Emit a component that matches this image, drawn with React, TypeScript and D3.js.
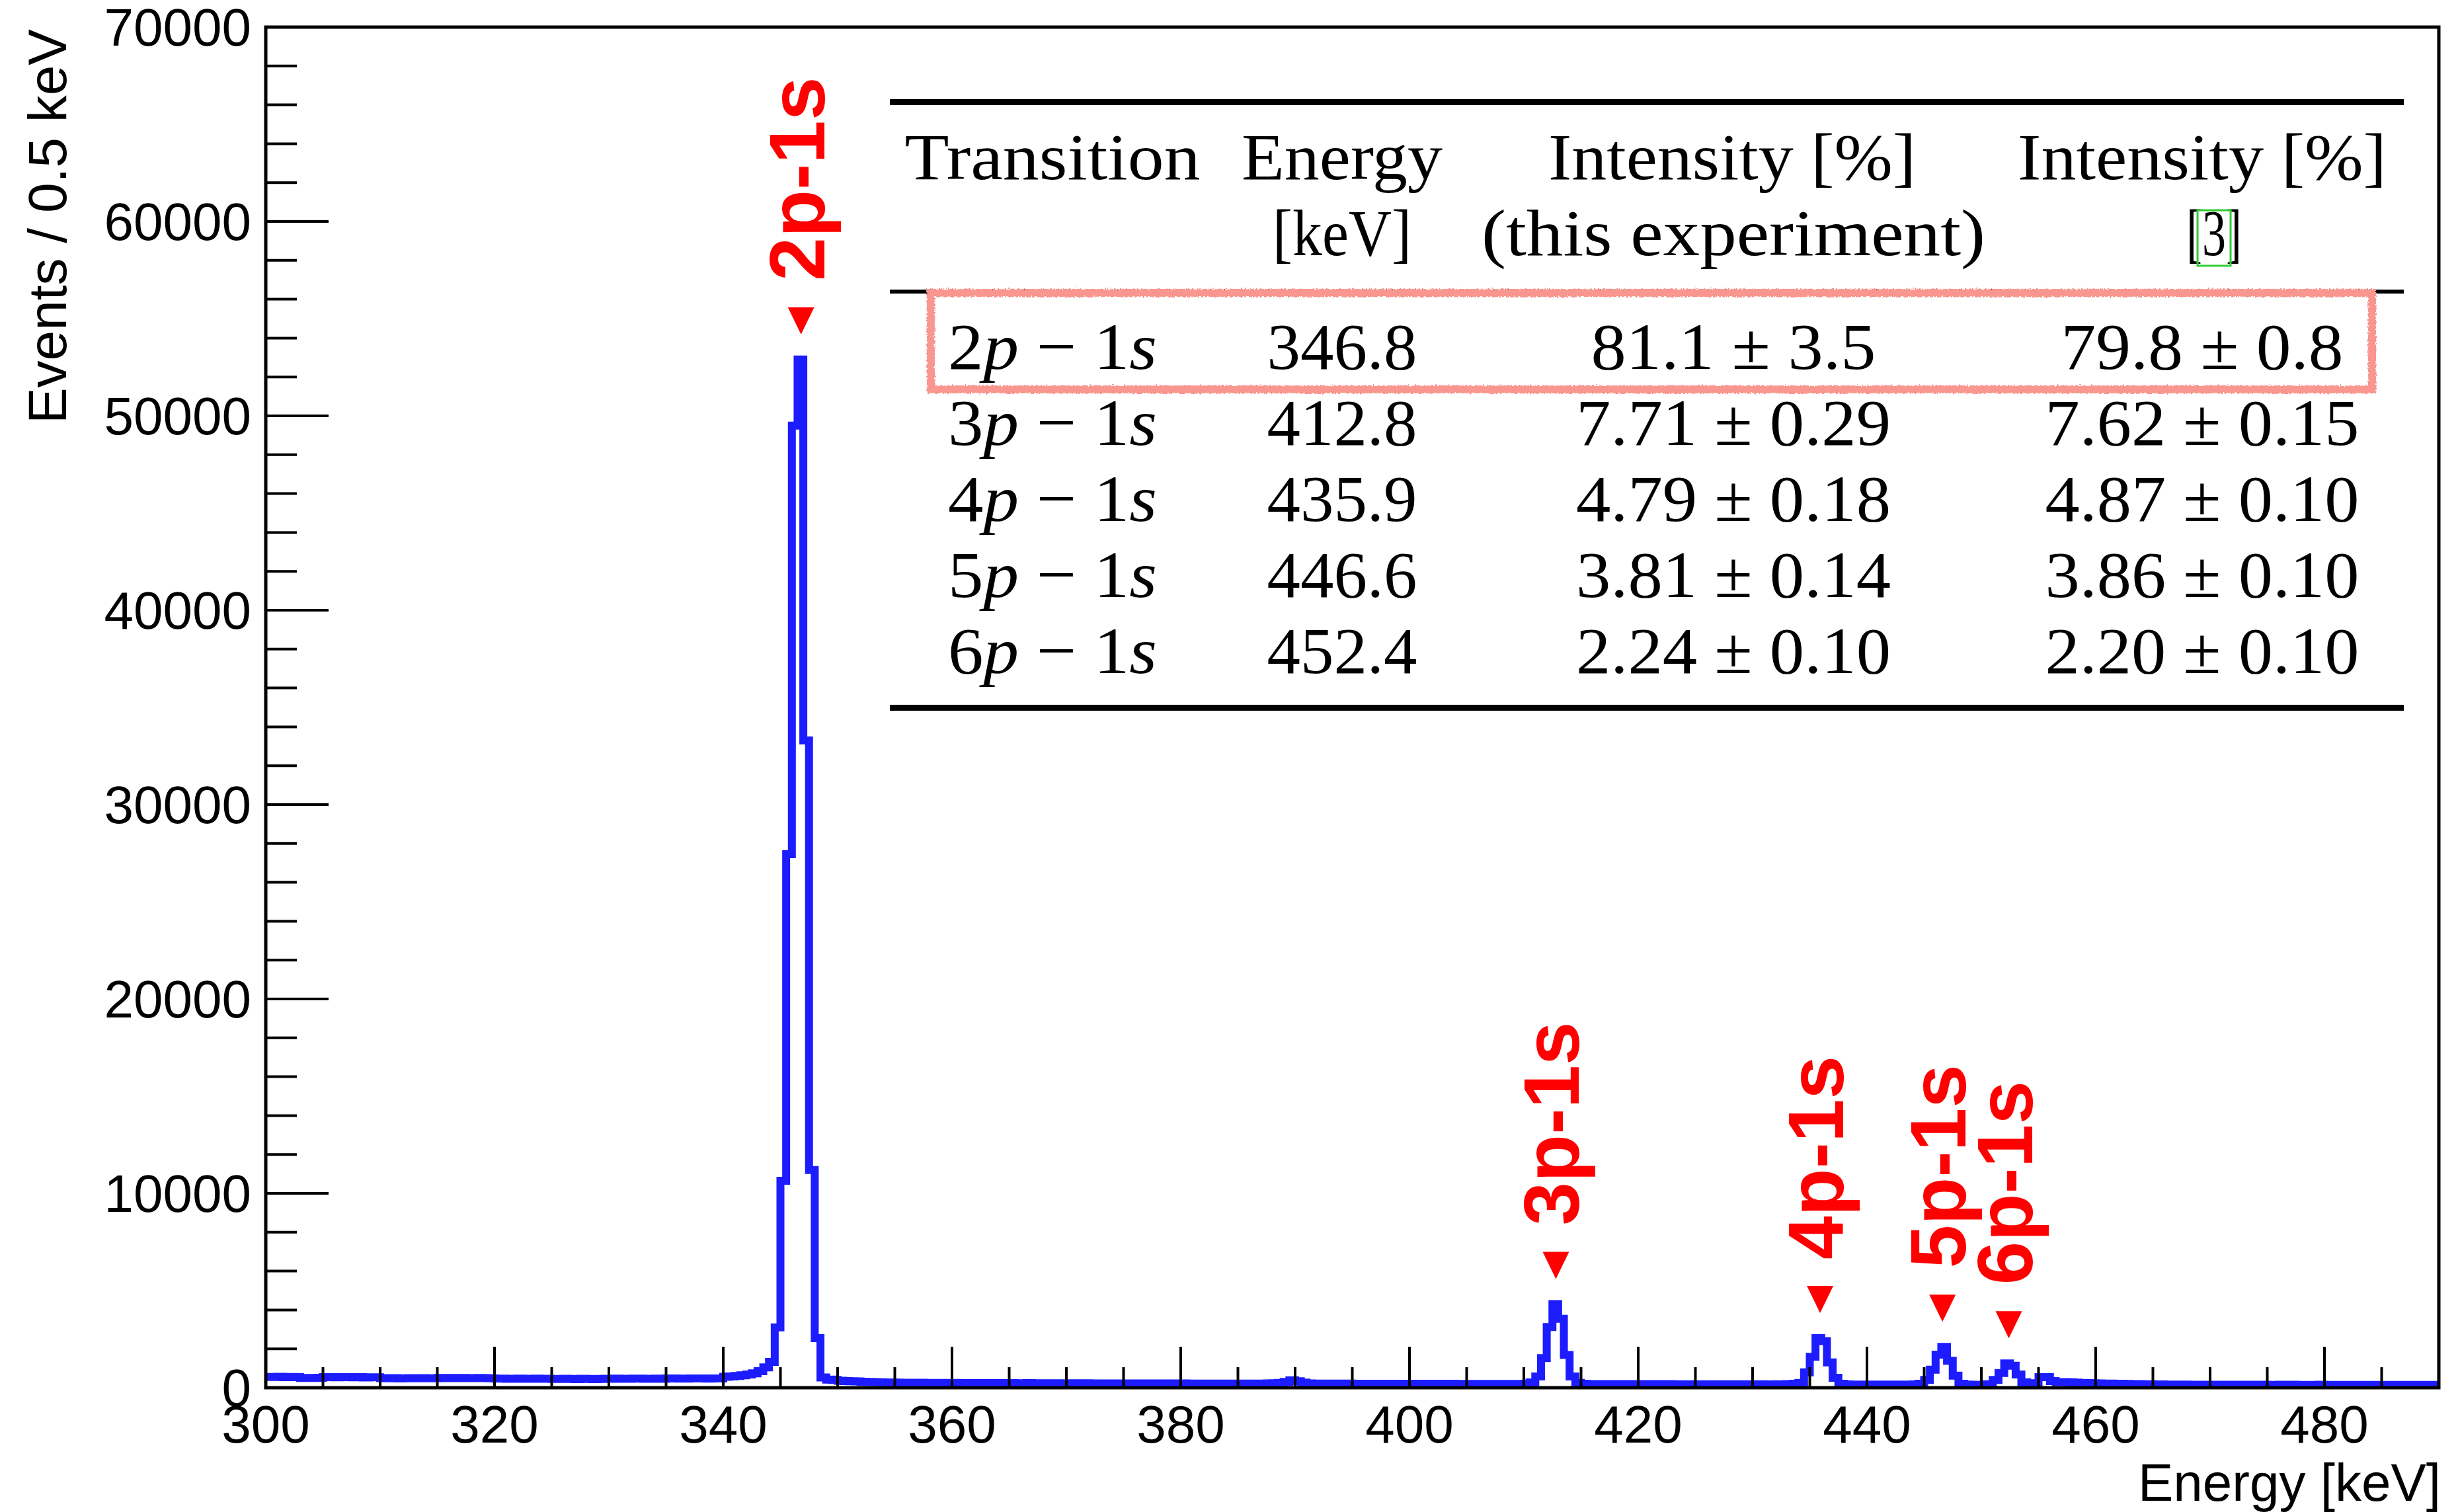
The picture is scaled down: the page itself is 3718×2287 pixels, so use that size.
import React from 'react';
import * as d3 from 'd3';

const W = 3718;
const H = 2287;

// histogram, 0.5 keV bins starting at 300 keV (one row = 10 keV)
const binStart = 300;
const binWidth = 0.5;
const c300 = [555, 550, 558, 548, 552, 545, 505, 498, 500, 510, 540, 545, 538, 548, 542, 536, 544, 530, 538, 532];
const c310 = [490, 485, 492, 480, 488, 495, 482, 490, 486, 484, 498, 495, 500, 492, 505, 490, 496, 502, 494, 488];
const c320 = [465, 470, 460, 458, 468, 462, 455, 466, 460, 463, 452, 448, 455, 450, 445, 458, 452, 446, 450, 455];
const c330 = [462, 468, 460, 455, 465, 470, 458, 462, 466, 460, 472, 478, 470, 468, 475, 480, 472, 470, 476, 480];
const c340 = [560, 580, 600, 640, 680, 740, 850, 1050, 1330, 3100, 10650, 27450, 49500, 52900, 33300, 11200, 2550, 530, 420, 400];
const c350 = [360, 340, 330, 320, 310, 300, 290, 280, 275, 270, 262, 258, 255, 250, 252, 248, 245, 250, 246, 242];
const c360 = [244, 240, 238, 242, 236, 240, 235, 238, 232, 236, 234, 230, 233, 236, 231, 228, 232, 230, 227, 229];
const c370 = [226, 228, 224, 227, 222, 225, 223, 220, 224, 221, 219, 222, 218, 221, 217, 220, 218, 216, 219, 215];
const c380 = [217, 214, 216, 213, 215, 212, 214, 211, 213, 210, 212, 214, 211, 213, 216, 222, 230, 250, 300, 380];
const c390 = [330, 260, 225, 215, 212, 210, 208, 211, 207, 209, 206, 208, 205, 207, 204, 206, 203, 205, 202, 204];
const c400 = [201, 203, 200, 204, 199, 201, 197, 200, 198, 199, 195, 198, 196, 197, 193, 196, 194, 195, 192, 194];
const c410 = [200, 270, 580, 1520, 3120, 4300, 3550, 1680, 580, 250, 200, 190, 188, 190, 186, 189, 185, 187, 184, 186];
const c420 = [183, 185, 182, 184, 181, 183, 180, 182, 179, 181, 178, 180, 177, 179, 176, 178, 175, 177, 174, 176];
const c430 = [173, 175, 172, 174, 176, 180, 186, 200, 250, 790, 1590, 2550, 2400, 1300, 510, 200, 170, 165, 162, 160];
const c440 = [158, 160, 157, 159, 156, 158, 160, 163, 170, 200, 400, 930, 1700, 2100, 1390, 620, 200, 160, 150, 150];
const c450 = [155, 175, 400, 760, 1250, 1130, 680, 280, 200, 230, 540, 540, 340, 290, 290, 280, 260, 250, 240, 230];
const c460 = [220, 215, 210, 205, 200, 195, 190, 185, 180, 176, 172, 168, 165, 162, 160, 158, 156, 155, 153, 152];
const c470 = [151, 149, 152, 148, 150, 147, 151, 149, 146, 150, 148, 145, 149, 147, 150, 146, 148, 144, 147, 149];
const c480 = [145, 148, 146, 143, 147, 145, 148, 144, 146, 143, 145, 147, 144, 142, 146, 143, 145, 141, 144, 142];
const counts = [
  ...c300, ...c310, ...c320, ...c330, ...c340, ...c350, ...c360, ...c370, ...c380, ...c390,
  ...c400, ...c410, ...c420, ...c430, ...c440, ...c450, ...c460, ...c470, ...c480,
];

const xMajor = [300, 320, 340, 360, 380, 400, 420, 440, 460, 480];
const yMajor = [0, 10000, 20000, 30000, 40000, 50000, 60000, 70000];

// peak annotations
const peakNames = ['2p-1s', '3p-1s', '4p-1s', '5p-1s', '6p-1s'];
const peakEnergies = [346.8, 412.8, 435.9, 446.6, 452.4];

// inset table
const headRow1 = ['Transition', 'Energy', 'Intensity [%]', 'Intensity [%]'];
const headRow2 = ['', '[keV]', '(this experiment)', '[3]'];
const rowLevel = ['2', '3', '4', '5', '6'];
const rowEnergy = ['346.8', '412.8', '435.9', '446.6', '452.4'];
const rowThis = ['81.1 ± 3.5', '7.71 ± 0.29', '4.79 ± 0.18', '3.81 ± 0.14', '2.24 ± 0.10'];
const rowRef = ['79.8 ± 0.8', '7.62 ± 0.15', '4.87 ± 0.10', '3.86 ± 0.10', '2.20 ± 0.10'];

const sans = 'Liberation Sans, Arial, Helvetica, sans-serif';
const serif = 'Liberation Serif, Times New Roman, serif';

export default function App() {
  const x = d3.scaleLinear().domain([300, 490]).range([402, 3689]);
  const y = d3.scaleLinear().domain([0, 70000]).range([2099, 41]);
  const [x0, x1] = x.range();
  const [y0, y1] = y.range();

  // step outline of the histogram
  const pts: [number, number][] = counts.flatMap((c, i) => {
    const lo = binStart + i * binWidth;
    return [[lo, c], [lo + binWidth, c]] as [number, number][];
  });
  const line = d3.line<[number, number]>().x(d => x(d[0])).y(d => y(d[1]));

  const xMinor = d3.range(300, 490.001, 5);
  const yMinor = d3.range(0, 70001, 2000);

  const peakMax = (e: number) =>
    d3.max(counts.filter((_, i) => Math.abs(binStart + (i + 0.5) * binWidth - e) < 1)) || 0;

  // table layout
  const colX = [1592, 2030, 2622, 3331];
  const head1W = [447, 304, 556, 558];
  const head2W = [0, 210, 762, 84];
  const ruleL = 1346, ruleR = 3636;
  const rowY = (i: number) => 558 + i * 115;

  return (
    <svg width={W} height={H} style={{ position: 'absolute', left: 0, top: 0, background: '#fff' }}>
      <defs>
        <filter id="rough" x="-5%" y="-20%" width="110%" height="140%">
          <feTurbulence type="fractalNoise" baseFrequency="0.35" numOctaves="2" seed="3" />
          <feDisplacementMap in="SourceGraphic" scale="6" />
        </filter>
      </defs>
      <rect width={W} height={H} fill="#fff" />

      {/* histogram */}
      <path d={line(pts) || ''} fill="none" stroke="#1c1cff" strokeWidth={12} strokeLinejoin="miter" />

      {/* frame */}
      <rect x={x0} y={y1} width={x1 - x0} height={y0 - y1} fill="none" stroke="#000" strokeWidth={5} />

      {/* x ticks */}
      {xMinor.map(v => (
        <line key={'xm' + v} x1={x(v)} x2={x(v)} y1={y0} y2={y0 - 31} stroke="#000" strokeWidth={4} />
      ))}
      {xMajor.map(v => (
        <line key={'xM' + v} x1={x(v)} x2={x(v)} y1={y0} y2={y0 - 62} stroke="#000" strokeWidth={4} />
      ))}
      {xMajor.map(v => (
        <text key={'xl' + v} x={x(v)} y={2182} fontFamily={sans} fontSize={80} textAnchor="middle">{v}</text>
      ))}

      {/* y ticks */}
      {yMinor.map(v => (
        <line key={'ym' + v} x1={x0} x2={x0 + 47} y1={y(v)} y2={y(v)} stroke="#000" strokeWidth={4} />
      ))}
      {yMajor.map(v => (
        <line key={'yM' + v} x1={x0} x2={x0 + 95} y1={y(v)} y2={y(v)} stroke="#000" strokeWidth={4} />
      ))}
      {yMajor.map(v => (
        <text key={'yl' + v} x={380} y={y(v) + 28} fontFamily={sans} fontSize={80} textAnchor="end">{v}</text>
      ))}

      {/* axis titles */}
      <text x={3692} y={2270} fontFamily={sans} fontSize={80} textAnchor="end">Energy [keV]</text>
      <text transform="translate(100,44) rotate(-90)" fontFamily={sans} fontSize={82} textAnchor="end">
        Events / 0.5 keV
      </text>

      {/* peak markers */}
      {peakNames.map((name, i) => {
        const px = x(peakEnergies[i]);
        const tip = y(peakMax(peakEnergies[i])) - 38;
        return (
          <g key={name} fill="#ff0000">
            <path d={`M${px - 20},${tip - 41}L${px + 20},${tip - 41}L${px},${tip}Z`} />
            <text
              transform={`translate(${px + 35},${tip - 81}) rotate(-90)`}
              fontFamily={sans}
              fontWeight="bold"
              fontSize={118}
            >
              {name}
            </text>
          </g>
        );
      })}

      {/* inset table */}
      <g fontFamily={serif} fontSize={100} fill="#000">
        <rect x={ruleL} y={150} width={ruleR - ruleL} height={9} fill="#000" />
        <rect x={ruleL} y={438} width={ruleR - ruleL} height={6} fill="#000" />
        <rect x={ruleL} y={1066} width={ruleR - ruleL} height={9} fill="#000" />
        {headRow1.map((t, j) => (
          <text key={'h1' + j} x={colX[j] + (j === 2 ? -2 : 0)} y={271} textAnchor="middle"
            textLength={head1W[j]} lengthAdjust="spacingAndGlyphs">{t}</text>
        ))}
        {headRow2.map((t, j) => t ? (
          <text key={'h2' + j} x={colX[j] + (j === 3 ? 18 : 0)} y={386} textAnchor="middle"
            textLength={head2W[j]} lengthAdjust="spacingAndGlyphs">{t}</text>
        ) : null)}
        <rect x={colX[3] + 18 - 25} y={318} width={50} height={84} fill="none" stroke="#33cc33" strokeWidth={3} />
        {rowLevel.map((lv, i) => (
          <g key={'r' + i}>
            <text x={colX[0]} y={rowY(i)} textAnchor="middle" textLength={316} lengthAdjust="spacingAndGlyphs">
              {lv}<tspan fontStyle="italic">p</tspan> − 1<tspan fontStyle="italic">s</tspan>
            </text>
            <text x={colX[1]} y={rowY(i)} textAnchor="middle" textLength={227} lengthAdjust="spacingAndGlyphs">
              {rowEnergy[i]}
            </text>
            <text x={colX[2]} y={rowY(i)} textAnchor="middle" textLength={i === 0 ? 431 : 476} lengthAdjust="spacingAndGlyphs">
              {rowThis[i]}
            </text>
            <text x={colX[3]} y={rowY(i)} textAnchor="middle" textLength={i === 0 ? 427 : 475} lengthAdjust="spacingAndGlyphs">
              {rowRef[i]}
            </text>
          </g>
        ))}
        <rect x={1408} y={443} width={3588 - 1408} height={589 - 443} fill="none" stroke="#f9968f"
          strokeWidth={12} filter="url(#rough)" />
      </g>
    </svg>
  );
}
